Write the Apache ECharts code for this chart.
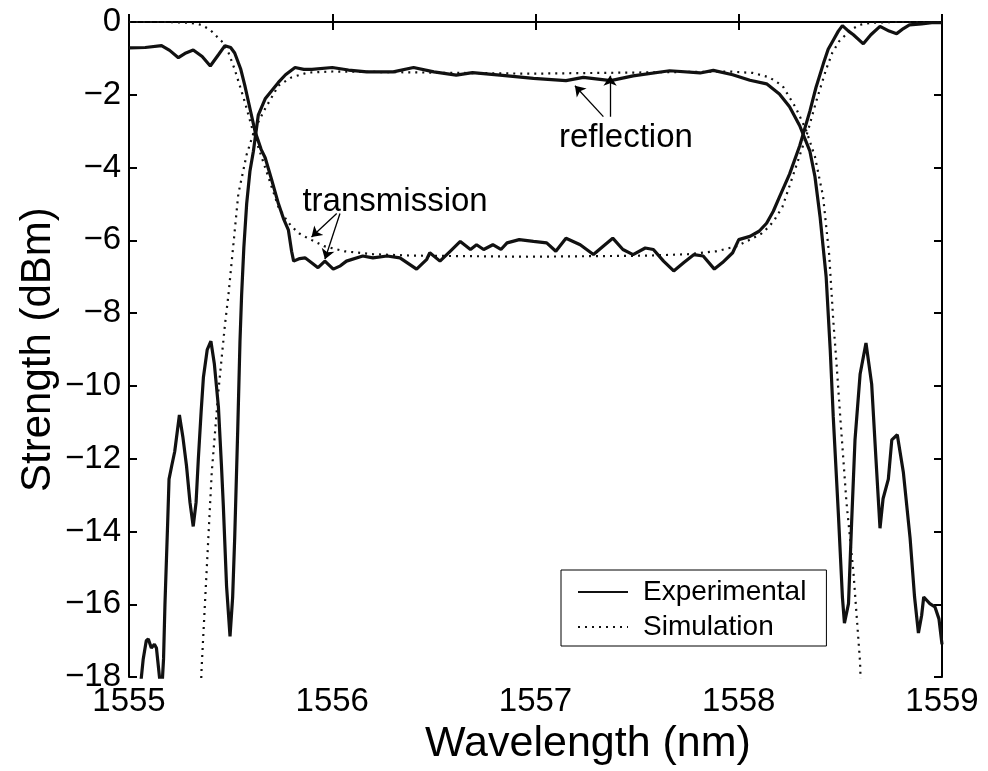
<!DOCTYPE html>
<html>
<head>
<meta charset="utf-8">
<script src="https://cdn.jsdelivr.net/npm/echarts@6/dist/echarts.min.js"></script>
<style>
html,body{margin:0;padding:0;background:#fff;}
#chart{width:988px;height:771px;}
</style>
</head>
<body>
<div id="chart"></div>
<script>
// ---- Data (wavelength nm, strength dBm) ----
const xTicks = [1555, 1556, 1557, 1558, 1559];
const yTicks = [0, -2, -4, -6, -8, -10, -12, -14, -16, -18];

const expTransmission = [
  [1555.00,-0.71],[1555.08,-0.70],[1555.16,-0.65],[1555.20,-0.78],[1555.243,-0.98],[1555.28,-0.85],
  [1555.316,-0.77],[1555.36,-0.95],[1555.40,-1.21],[1555.44,-0.90],[1555.472,-0.65],[1555.50,-0.70],
  [1555.52,-0.85],[1555.55,-1.30],[1555.57,-1.75],[1555.60,-2.50],[1555.62,-3.00],[1555.65,-3.50],
  [1555.67,-3.73],[1555.70,-4.30],[1555.735,-4.99],[1555.76,-5.40],[1555.784,-5.71],[1555.80,-6.30],
  [1555.81,-6.57],[1555.84,-6.50],[1555.866,-6.48],[1555.90,-6.62],[1555.93,-6.75],[1555.964,-6.57],
  [1556.005,-6.79],[1556.04,-6.70],[1556.07,-6.57],[1556.15,-6.43],[1556.20,-6.48],[1556.27,-6.43],
  [1556.333,-6.48],[1556.415,-6.79],[1556.465,-6.52],[1556.48,-6.34],[1556.53,-6.57],[1556.58,-6.30],
  [1556.63,-6.03],[1556.68,-6.25],[1556.71,-6.12],[1556.745,-6.25],[1556.79,-6.12],[1556.83,-6.25],
  [1556.86,-6.07],[1556.92,-5.98],[1556.99,-6.03],[1557.055,-6.07],[1557.10,-6.30],[1557.15,-5.94],
  [1557.22,-6.12],[1557.285,-6.39],[1557.333,-6.16],[1557.38,-5.94],[1557.43,-6.25],[1557.48,-6.39],
  [1557.54,-6.21],[1557.58,-6.25],[1557.63,-6.57],[1557.68,-6.84],[1557.73,-6.61],[1557.78,-6.39],
  [1557.825,-6.43],[1557.88,-6.79],[1557.92,-6.61],[1557.97,-6.34],[1558.00,-5.98],[1558.055,-5.89],
  [1558.10,-5.75],[1558.137,-5.53],[1558.17,-5.20],[1558.20,-4.81],[1558.25,-4.18],[1558.30,-3.40],
  [1558.35,-2.45],[1558.38,-1.80],[1558.416,-1.15],[1558.44,-0.75],[1558.465,-0.50],[1558.49,-0.25],
  [1558.51,-0.10],[1558.54,-0.25],[1558.564,-0.35],[1558.613,-0.60],[1558.65,-0.35],[1558.695,-0.12],
  [1558.74,-0.25],[1558.777,-0.32],[1558.81,-0.18],[1558.84,-0.08],[1558.90,-0.05],[1558.95,-0.02],
  [1559.00,-0.02]
];

const expReflection = [
  [1555.00,-19.5],[1555.05,-18.6],[1555.07,-17.5],[1555.085,-17.0],[1555.095,-16.95],[1555.11,-17.2],
  [1555.125,-17.1],[1555.135,-17.2],[1555.15,-18.0],[1555.16,-18.5],[1555.17,-17.5],[1555.177,-15.98],
  [1555.19,-13.8],[1555.197,-12.56],[1555.21,-12.2],[1555.225,-11.8],[1555.248,-10.8],[1555.265,-11.4],
  [1555.283,-12.2],[1555.30,-13.2],[1555.316,-13.86],[1555.33,-13.2],[1555.341,-12.02],[1555.355,-10.7],
  [1555.366,-9.77],[1555.385,-9.0],[1555.403,-8.77],[1555.42,-9.4],[1555.44,-10.58],[1555.455,-12.2],
  [1555.464,-13.28],[1555.48,-15.5],[1555.497,-16.88],[1555.51,-15.8],[1555.52,-14.18],[1555.535,-11.2],
  [1555.546,-8.78],[1555.554,-7.51],[1555.565,-6.2],[1555.579,-4.99],[1555.595,-4.1],[1555.612,-3.55],
  [1555.636,-2.56],[1555.67,-2.11],[1555.70,-1.90],[1555.735,-1.66],[1555.77,-1.45],[1555.817,-1.25],
  [1555.86,-1.30],[1555.90,-1.30],[1556.00,-1.25],[1556.08,-1.32],[1556.17,-1.37],[1556.30,-1.37],
  [1556.40,-1.25],[1556.50,-1.37],[1556.61,-1.46],[1556.69,-1.39],[1556.825,-1.46],[1556.99,-1.55],
  [1557.15,-1.61],[1557.235,-1.52],[1557.37,-1.61],[1557.48,-1.48],[1557.66,-1.34],[1557.81,-1.40],
  [1557.875,-1.33],[1557.97,-1.45],[1558.055,-1.60],[1558.137,-1.70],[1558.20,-1.98],[1558.25,-2.33],
  [1558.30,-2.85],[1558.35,-3.55],[1558.375,-4.25],[1558.40,-5.35],[1558.43,-7.0],[1558.45,-9.0],
  [1558.465,-10.85],[1558.49,-13.5],[1558.51,-15.8],[1558.52,-16.52],[1558.54,-15.98],[1558.555,-13.8],
  [1558.572,-11.48],[1558.597,-9.68],[1558.626,-8.82],[1558.654,-9.95],[1558.675,-12.0],[1558.695,-13.91],
  [1558.71,-13.1],[1558.736,-12.56],[1558.753,-11.48],[1558.78,-11.34],[1558.81,-12.38],[1558.843,-14.18],
  [1558.865,-15.8],[1558.884,-16.79],[1558.90,-16.3],[1558.91,-15.8],[1558.94,-15.98],[1558.965,-16.07],
  [1558.985,-16.4],[1559.00,-17.1]
];

const simTransmission = [
  [1555.00,0],[1555.20,0],[1555.30,-0.02],[1555.357,-0.08],[1555.40,-0.22],[1555.456,-0.53],
  [1555.49,-0.85],[1555.52,-1.30],[1555.545,-1.75],[1555.57,-2.20],[1555.61,-3.00],[1555.64,-3.50],
  [1555.67,-4.00],[1555.70,-4.50],[1555.735,-5.08],[1555.77,-5.40],[1555.80,-5.62],[1555.84,-5.82],
  [1555.88,-5.94],[1555.96,-6.16],[1556.06,-6.30],[1556.20,-6.38],[1556.40,-6.42],[1556.97,-6.45],
  [1557.55,-6.42],[1557.75,-6.38],[1557.89,-6.30],[1557.99,-6.16],[1558.07,-5.94],[1558.11,-5.82],
  [1558.15,-5.62],[1558.18,-5.40],[1558.215,-5.08],[1558.25,-4.50],[1558.28,-4.00],[1558.31,-3.50],
  [1558.34,-3.00],[1558.38,-2.20],[1558.405,-1.75],[1558.43,-1.30],[1558.46,-0.85],[1558.494,-0.53],
  [1558.55,-0.22],[1558.593,-0.08],[1558.65,-0.02],[1558.75,0],[1559.00,0]
];

const simReflection = [
  [1555.352,-18.6],[1555.357,-17.78],[1555.382,-15.08],[1555.407,-12.38],[1555.44,-10.13],[1555.472,-8.32],
  [1555.489,-7.51],[1555.505,-6.6],[1555.538,-4.72],[1555.579,-3.64],[1555.62,-2.92],[1555.67,-2.38],
  [1555.735,-1.75],[1555.80,-1.52],[1555.88,-1.39],[1556.00,-1.36],[1556.97,-1.42],[1557.95,-1.36],
  [1558.07,-1.40],[1558.15,-1.52],[1558.215,-1.75],[1558.28,-2.35],[1558.33,-2.95],[1558.375,-3.70],
  [1558.415,-4.80],[1558.445,-6.40],[1558.465,-8.20],[1558.48,-9.30],[1558.50,-10.90],[1558.53,-13.20],
  [1558.564,-15.10],[1558.597,-17.60],[1558.602,-18.6]
];

// annotation texts and arrows (data coordinates)
const noteTexts = [
  {name:'transmission', coord:[1556.309,-4.95]},
  {name:'reflection', coord:[1557.445,-3.19]}
];
const noteArrows = [
  [[1556.022,-5.26],[1555.898,-5.91]],
  [[1556.038,-5.26],[1555.964,-6.52]],
  [[1557.334,-2.60],[1557.194,-1.75]],
  [[1557.367,-2.60],[1557.367,-1.48]]
];

// ---- Chart ----
const FONT = '"Liberation Sans", Arial, Helvetica, sans-serif';
const chart = echarts.init(document.getElementById('chart'), null, {renderer:'canvas'});
const fmtY = v => (v < 0 ? '\u2212' + Math.abs(v) : String(v));
const baseAxisLine = {show:true, lineStyle:{color:'#000', width:2}};
const tickStyle = {show:true, inside:true, length:8, lineStyle:{color:'#000', width:2}};

const solid = {color:'#111', width:3.2, type:'solid'};
const dotted = {color:'#111', width:2.2, type:[2,5], cap:'butt'};

const option = {
  backgroundColor:'#fff',
  animation:false,
  textStyle:{fontFamily:FONT, color:'#000'},
  grid:{left:129, right:46, top:22, bottom:83, containLabel:false},
  legend:{
    orient:'vertical', left:561, top:570,
    data:['Experimental','Simulation'],
    itemWidth:50, itemHeight:12, itemGap:7,
    padding:[8, 20, 5, 16],
    borderColor:'#000', borderWidth:1, backgroundColor:'#fff',
    itemStyle:{opacity:0},
    textStyle:{fontSize:28, color:'#000', fontFamily:FONT, padding:[0,0,0,10]}
  },
  xAxis:[{
    type:'value', min:xTicks[0], max:xTicks[xTicks.length-1], interval:1,
    axisLine:baseAxisLine, axisTick:tickStyle, splitLine:{show:false},
    axisLabel:{fontSize:33, color:'#000', margin:8, fontFamily:FONT, formatter:v => String(v)},
    name:'Wavelength (nm)', nameLocation:'middle', nameGap:38,
    nameTextStyle:{fontSize:43, color:'#000', fontFamily:FONT, padding:[0,0,0,105]}
  },{
    type:'value', position:'top', min:xTicks[0], max:xTicks[xTicks.length-1], interval:1,
    axisLine:baseAxisLine, axisTick:tickStyle, splitLine:{show:false}, axisLabel:{show:false}
  }],
  yAxis:[{
    type:'value', min:yTicks[yTicks.length-1], max:yTicks[0], interval:2,
    axisLine:baseAxisLine, axisTick:tickStyle, splitLine:{show:false},
    axisLabel:{fontSize:33, color:'#000', margin:8, formatter:fmtY, fontFamily:FONT},
    name:'Strength (dBm)', nameLocation:'middle', nameGap:70, nameMoveOverlap:false,
    nameTextStyle:{fontSize:42, color:'#000', fontFamily:FONT}
  },{
    type:'value', position:'right', min:yTicks[yTicks.length-1], max:yTicks[0], interval:2,
    axisLine:baseAxisLine, axisTick:tickStyle, splitLine:{show:false}, axisLabel:{show:false}
  }],
  series:[
    {name:'Simulation', type:'line', data:simTransmission, symbol:'none', lineStyle:dotted, itemStyle:{color:'#111'}, clip:true, z:2},
    {name:'Simulation', type:'line', data:simReflection, symbol:'none', lineStyle:dotted, itemStyle:{color:'#111'}, clip:true, z:2},
    {name:'Experimental', type:'line', data:expTransmission, symbol:'none', lineStyle:solid, itemStyle:{color:'#111'}, clip:true, z:3},
    {name:'Experimental', type:'line', data:expReflection, symbol:'none', lineStyle:solid, itemStyle:{color:'#111'}, clip:true, z:3,
      markPoint:{
        silent:true, symbol:'circle', symbolSize:0,
        label:{show:true, position:'inside', formatter:p => p.name, fontSize:33, color:'#000', fontFamily:FONT},
        data:noteTexts.map(t => ({name:t.name, coord:t.coord}))
      }
    },
    {name:'annotations', type:'lines', coordinateSystem:'cartesian2d', silent:true, z:4,
      symbol:['none','arrow'], symbolSize:10,
      lineStyle:{color:'#000', width:1.3, opacity:1, curveness:0},
      itemStyle:{color:'#000'},
      data:noteArrows.map(a => ({coords:a}))
    }
  ]
};
chart.setOption(option);
</script>
</body>
</html>
